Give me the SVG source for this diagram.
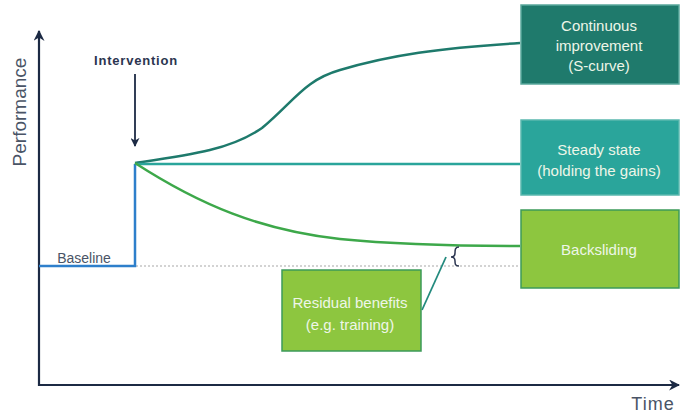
<svg xmlns="http://www.w3.org/2000/svg" width="682" height="414" viewBox="0 0 682 414">
  <style>
    .lbl { font-family: "Liberation Sans", Arial, sans-serif; }
    .box-text { font-family: "Liberation Sans", Arial, sans-serif; font-size: 15px; fill: #eef6e8; text-anchor: middle; }
    .axis { stroke: #1c2a44; stroke-width: 2.2; fill: none; }
  </style>
  <defs>
    <marker id="axisHead" viewBox="0 0 10 10" refX="9" refY="5" markerWidth="5" markerHeight="5" orient="auto">
      <path d="M0,0 L10,5 L0,10 L3,5 Z" fill="#1c2a44"/>
    </marker>
  </defs>
  <rect width="682" height="414" fill="#ffffff"/>

  <!-- axes -->
  <g id="axes">
    <line class="axis" x1="39" y1="386" x2="39" y2="31" marker-end="url(#axisHead)"/>
    <line class="axis" x1="38" y1="385" x2="679" y2="385" marker-end="url(#axisHead)"/>
    <text class="lbl" x="0" y="0" font-size="19" fill="#4a5466" text-anchor="middle" transform="translate(26,112) rotate(-90)">Performance</text>
    <text class="lbl" x="653" y="410" font-size="18" fill="#4a5466" text-anchor="middle" letter-spacing="1">Time</text>
  </g>

  <!-- intervention marker -->
  <g id="intervention">
    <text class="lbl" x="136" y="65" font-size="13" font-weight="bold" fill="#2b3550" text-anchor="middle" letter-spacing="0.8">Intervention</text>
    <line x1="135" y1="74" x2="135" y2="146" stroke="#1c2a44" stroke-width="1.8" marker-end="url(#axisHead)"/>
  </g>

  <!-- connectors: performance trajectories -->
  <g id="connectors" fill="none">
    <line x1="136" y1="266" x2="520" y2="266" stroke="#a8a8a8" stroke-width="1.2" stroke-dasharray="2,2"/>
    <path d="M39,266 H135 V164" stroke="#2e7fcb" stroke-width="2.5"/>
    <path d="M135,163 C190,155 230,150 262,128 C295,100 305,80 340,70 C390,55 440,48 520,43" stroke="#1e7a6c" stroke-width="2.5"/>
    <line x1="135" y1="164" x2="520" y2="164" stroke="#2aa59b" stroke-width="2.5"/>
    <path d="M135,163 C200,205 260,230 340,239 C400,245 460,246 520,246" stroke="#3da84a" stroke-width="2.5"/>
    <path d="M459,247 C455,247 455,250 455,253 C455,256 453,257 451,257 C453,257 455,258 455,261 C455,264 455,266 459,266" stroke="#2b3550" stroke-width="1.5"/>
    <line x1="446" y1="257" x2="422" y2="310" stroke="#238a7e" stroke-width="1.8"/>
  </g>

  <g id="baseline-label">
    <text class="lbl" x="84" y="263" font-size="14" fill="#4a5466" text-anchor="middle">Baseline</text>
  </g>

  <!-- outcome boxes -->
  <g id="continuous-improvement">
    <rect x="521" y="5" width="158" height="79" fill="#1f7a6c" stroke="#5aa89c" stroke-width="1.5"/>
    <text class="box-text" x="599" y="31">Continuous</text>
    <text class="box-text" x="599" y="51">improvement</text>
    <text class="box-text" x="599" y="71">(S-curve)</text>
  </g>
  <g id="steady-state">
    <rect x="521" y="120" width="158" height="75" fill="#2aa59b" stroke="#5ab8ae" stroke-width="1.5"/>
    <text class="box-text" x="599" y="155">Steady state</text>
    <text class="box-text" x="599" y="176">(holding the gains)</text>
  </g>
  <g id="backsliding">
    <rect x="521" y="210" width="158" height="78" fill="#8dc63f" stroke="#3c9a5a" stroke-width="1.5"/>
    <text class="box-text" x="599" y="255">Backsliding</text>
  </g>
  <g id="residual-benefits">
    <rect x="282" y="270" width="139" height="81" fill="#8dc63f" stroke="#3c9a5a" stroke-width="1.5"/>
    <text class="box-text" x="350" y="308">Residual benefits</text>
    <text class="box-text" x="350" y="330">(e.g. training)</text>
  </g>
</svg>
